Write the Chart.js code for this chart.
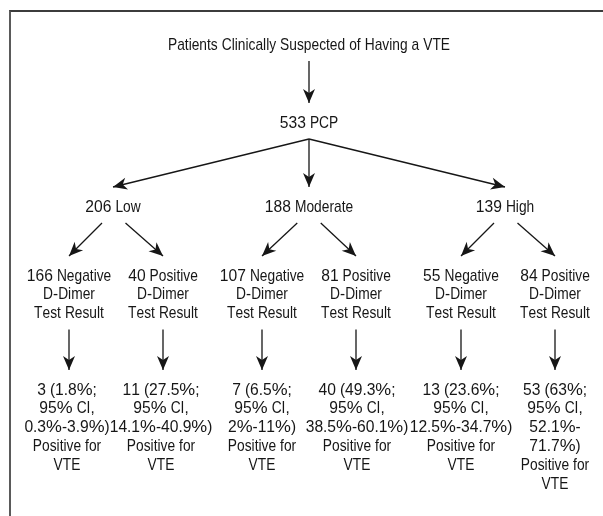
<!DOCTYPE html>
<html>
<head>
<meta charset="utf-8">
<script src="https://cdn.jsdelivr.net/npm/chart.js@4.4.1/dist/chart.umd.min.js"></script>
<style>
  body { margin: 0; background: #fff; }
  #wrap { position: relative; width: 603px; height: 516px; overflow: hidden; }
  #frame { position: absolute; left: 9px; top: 10px; width: 700px; height: 600px;
           border-top: 2px solid #3c3c3c; border-left: 2px solid #5a5a5a; pointer-events: none; }
  canvas { position: absolute; left: 0; top: 0; }
</style>
</head>
<body>
<div id="wrap">
  <canvas id="mychart" width="603" height="516"></canvas>
  <div id="frame"></div>
</div>
<script>
// flowchart nodes (layout units: x across, y = first text line, top down)
var nodeText = [
  ["Patients Clinically Suspected of Having a VTE"],
  ["533 PCP"],
  ["206 Low"],
  ["188 Moderate"],
  ["139 High"],
  ["166 Negative", "D-Dimer", "Test Result"],
  ["40 Positive", "D-Dimer", "Test Result"],
  ["107 Negative", "D-Dimer", "Test Result"],
  ["81 Positive", "D-Dimer", "Test Result"],
  ["55 Negative", "D-Dimer", "Test Result"],
  ["84 Positive", "D-Dimer", "Test Result"],
  ["3 (1.8%;", "95% CI,", "0.3%-3.9%)", "Positive for", "VTE"],
  ["11 (27.5%;", "95% CI,", "14.1%-40.9%)", "Positive for", "VTE"],
  ["7 (6.5%;", "95% CI,", "2%-11%)", "Positive for", "VTE"],
  ["40 (49.3%;", "95% CI,", "38.5%-60.1%)", "Positive for", "VTE"],
  ["13 (23.6%;", "95% CI,", "12.5%-34.7%)", "Positive for", "VTE"],
  ["53 (63%;", "95% CI,", "52.1%-", "71.7%)", "Positive for", "VTE"]
]
var nodeX = [309, 309, 113, 309, 505, 69, 163, 262, 356, 461, 555, 67, 161, 262, 357, 461, 555]
var nodeY = [45, 123, 207, 207, 207, 276, 276, 276, 276, 276, 276, 390, 390, 390, 390, 390, 390]

// arrows: parent -> child, and how far the tail leans toward the child
var edgeFrom = [0, 1, 1, 1, 2, 2, 3, 3, 4, 4, 5, 6, 7, 8, 9, 10]
var edgeTo   = [1, 2, 3, 4, 5, 6, 7, 8, 9, 10, 11, 12, 13, 14, 15, 16]
var edgeLean = [0, 0, 0, 0, 0.25, 0.25, 0.25, 0.25, 0.25, 0.25, 0, 0, 0, 0, 0, 0]

var lineH = 18.8
var tailGap = 16
var headGap = 20
var ink = "#161616"
var fontStr = "17px 'Liberation Sans', Arial, sans-serif"

// fake a condensed grotesque: letters squeezed more than figures
function charScale(ch) {
  if (/[0-9]/.test(ch)) return 0.92
  if (ch == "%") return 1.05
  if (/[.,;:()\-]/.test(ch)) return 0.9
  if (ch == " ") return 0.85
  return 0.81
}

function drawCondensed(ctx, text, cx, cy) {
  var total = 0
  var widths = []
  for (var c = 0; c < text.length; c++) {
    var w = ctx.measureText(text[c]).width * charScale(text[c])
    widths.push(w)
    total += w
  }
  var x = cx - total / 2
  for (var c = 0; c < text.length; c++) {
    ctx.save()
    ctx.translate(x, cy)
    ctx.scale(charScale(text[c]), 1)
    ctx.fillText(text[c], 0, 0)
    ctx.restore()
    x += widths[c]
  }
}

var datasets = []
datasets.push({
  label: "nodes",
  data: nodeX.map(function (x, i) { return { x: x, y: nodeY[i] } }),
  pointRadius: 0,
  showLine: false
})

for (var i = 0; i < edgeFrom.length; i++) {
  var a = edgeFrom[i], b = edgeTo[i]
  var lastLine = nodeY[a] + (nodeText[a].length - 1) * lineH
  var x0 = nodeX[a] + (nodeX[b] - nodeX[a]) * edgeLean[i]
  var x1 = b >= 11 ? nodeX[b - 6] : nodeX[b]
  datasets.push({
    label: "edge" + i,
    data: [{ x: x0, y: lastLine + tailGap }, { x: x1, y: nodeY[b] - headGap }],
    showLine: true,
    borderColor: ink,
    borderWidth: 1.3,
    pointRadius: 0,
    fill: false
  })
}

var flowPlugin = {
  id: "flow",
  afterDatasetsDraw: function (chart) {
    var ctx = chart.ctx
    ctx.save()
    // arrow heads
    ctx.fillStyle = ink
    for (var d = 1; d < chart.data.datasets.length; d++) {
      var pts = chart.getDatasetMeta(d).data
      var p0 = pts[0], p1 = pts[1]
      var ang = Math.atan2(p1.y - p0.y, p1.x - p0.x)
      ctx.save()
      ctx.translate(p1.x, p1.y)
      ctx.rotate(ang)
      ctx.beginPath()
      ctx.moveTo(0, 0)
      ctx.lineTo(-14, -6)
      ctx.lineTo(-10, 0)
      ctx.lineTo(-14, 6)
      ctx.closePath()
      ctx.fill()
      ctx.restore()
    }
    // node labels
    ctx.font = fontStr
    ctx.fillStyle = ink
    ctx.textAlign = "left"
    ctx.textBaseline = "middle"
    var nodes = chart.getDatasetMeta(0).data
    nodes.forEach(function (pt, i) {
      nodeText[i].forEach(function (line, k) {
        drawCondensed(ctx, line, pt.x, pt.y + k * lineH)
      })
    })
    ctx.restore()
  }
}

var myChart = document.getElementById("mychart").getContext("2d")
var chart = new Chart(myChart, {
  type: "scatter",
  data: { datasets: datasets },
  options: {
    responsive: false,
    animation: false,
    layout: { padding: 0 },
    scales: {
      x: { type: "linear", min: 0, max: 603, display: false },
      y: { type: "linear", min: 0, max: 516, reverse: true, display: false }
    },
    plugins: {
      legend: { display: false },
      tooltip: { enabled: false }
    }
  },
  plugins: [flowPlugin]
})
</script>
</body>
</html>
